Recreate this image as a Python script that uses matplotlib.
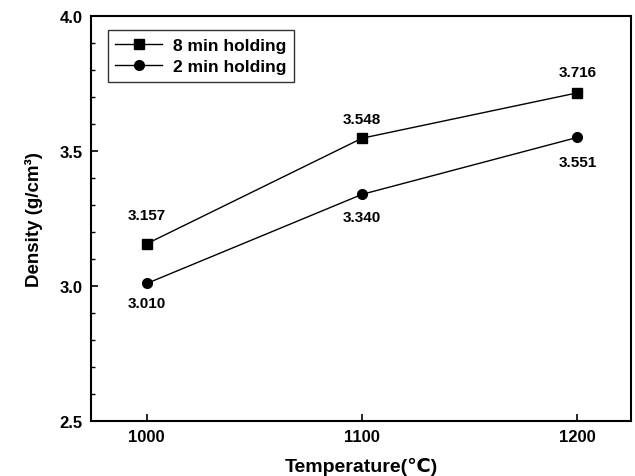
import matplotlib
matplotlib.use("Agg")
import matplotlib.pyplot as plt
from matplotlib import ticker

plt.rcParams['font.family'] = ['Liberation Sans', 'DejaVu Sans']
plt.rcParams['font.weight'] = 'bold'

# density vs sintering temperature
temps = [1000, 1100, 1200]
dens_8min = [3.157, 3.548, 3.716]
dens_2min = [3.010, 3.340, 3.551]
labels_8min = ["3.157", "3.548", "3.716"]
labels_2min = ["3.010", "3.340", "3.551"]

fig = plt.figure(figsize=(6.35, 4.77), dpi=100)
ax = fig.add_axes([0.143, 0.115, 0.851, 0.849])

ax.plot(temps, dens_8min, color='black', lw=1.0, marker='s', ms=6.5,
        label='8 min holding')
ax.plot(temps, dens_2min, color='black', lw=1.0, marker='o', ms=7,
        label='2 min holding')

# value labels: 8 min above the points, 2 min below
ups = [21, 14, 15]
downs = [-14, -16, -18]
for t, d, s, off in zip(temps, dens_8min, labels_8min, ups):
    ax.annotate(s, (t, d), xytext=(0, off), textcoords='offset points',
                ha='center', va='center', fontsize=11, fontweight='bold')
for t, d, s, off in zip(temps, dens_2min, labels_2min, downs):
    ax.annotate(s, (t, d), xytext=(0, off), textcoords='offset points',
                ha='center', va='center', fontsize=11, fontweight='bold')

ax.set_xlim(974, 1225)
ax.set_ylim(2.5, 4.0)
ax.set_xticks(temps)
ax.yaxis.set_major_locator(ticker.MultipleLocator(0.5))
ax.yaxis.set_minor_locator(ticker.MultipleLocator(0.1))
ax.yaxis.set_major_formatter(ticker.FormatStrFormatter('%.1f'))
ax.tick_params(direction='in', which='major', length=5, width=1.2,
               labelsize=12, pad=6)
ax.tick_params(direction='in', which='minor', length=3, width=1.0)
for sp in ax.spines.values():
    sp.set_linewidth(1.5)

ax.set_xlabel("Temperature(\u2103)", fontsize=14, fontweight='bold', labelpad=9)
ax.set_ylabel("Density (g/cm\u00b3)", fontsize=13.5, fontweight='bold', labelpad=12)

leg = ax.legend(loc='upper left', bbox_to_anchor=(0.031, 0.966), fontsize=12.5,
                frameon=True, fancybox=False, edgecolor='black',
                handlelength=2.7, borderpad=0.45, labelspacing=0.35,
                handletextpad=0.6, borderaxespad=0)
leg.get_frame().set_linewidth(1.0)

fig.savefig("out.png", dpi=100)
